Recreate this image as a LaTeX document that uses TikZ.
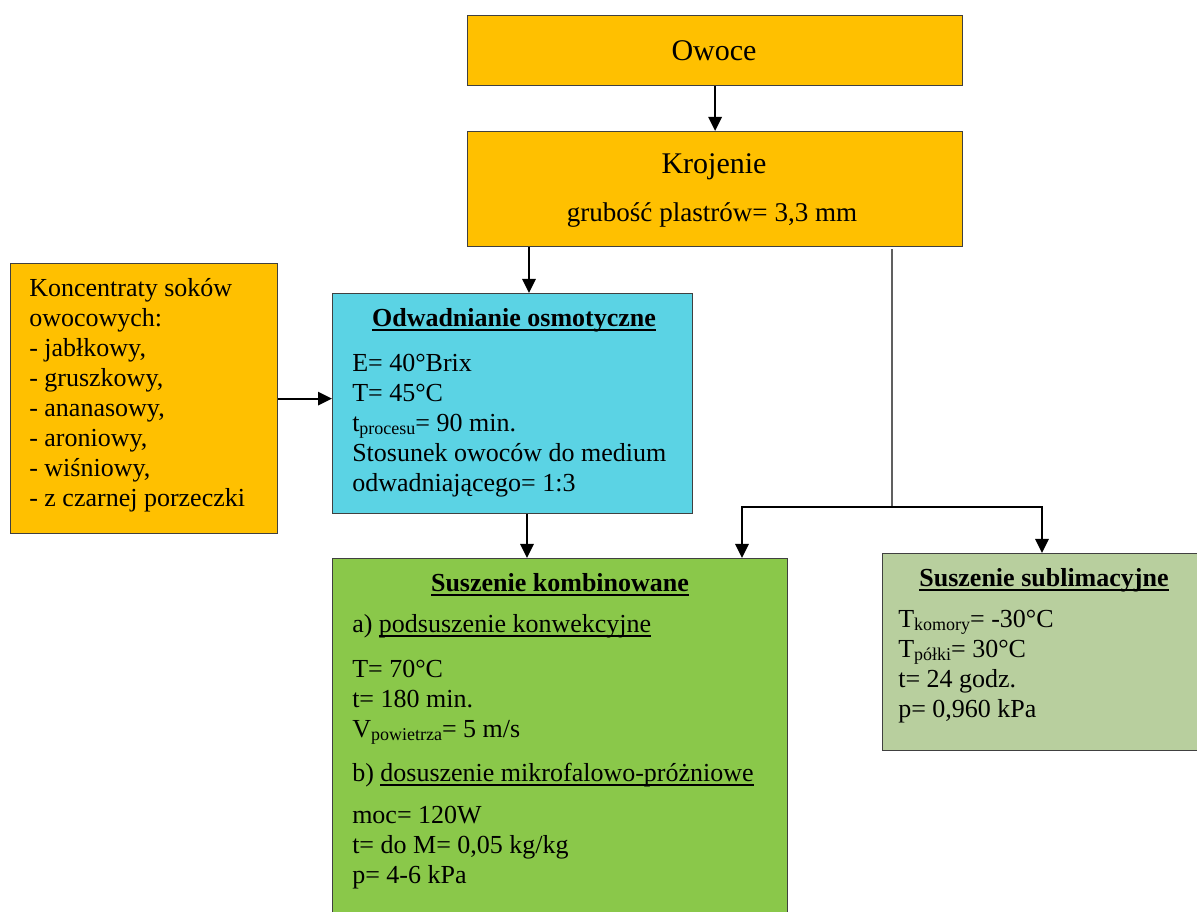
\documentclass[tikz,border=0pt]{standalone}
\usepackage{fontspec}
\setmainfont{Liberation Serif}
\usetikzlibrary{arrows.meta}
\newdimen\pxu \pxu=0.75pt
\newcommand\myul[1]{\setbox0\hbox{#1}\rlap{\rule[-3pt]{\wd0}{1.2pt}}\box0}
\newcommand\mysub[1]{\raisebox{-2.2pt}{\fontsize{13.5pt}{14pt}\selectfont #1}}
\definecolor{orangebox}{HTML}{FFC000}
\definecolor{cyanbox}{HTML}{5BD3E4}
\definecolor{greenbox}{HTML}{8AC84A}
\definecolor{subbox}{HTML}{B8CF9E}
\definecolor{boxline}{HTML}{404040}
\definecolor{splitline}{HTML}{606060}
\begin{document}
\begin{tikzpicture}[x=0.75pt,y=-0.75pt,
  box/.style={draw=boxline, line width=0.9pt, rectangle, inner sep=0pt, anchor=north west},
  arr/.style={line width=1.6pt, -{Triangle[length=10.5pt,width=10pt]}},
  grayln/.style={draw=splitline, line width=1.1pt},
  txt/.style={anchor=base west, inner sep=0pt, font=\fontsize{19.5pt}{22.5pt}\selectfont},
  ttl/.style={anchor=base, inner sep=0pt, font=\fontsize{19.5pt}{22.5pt}\selectfont\bfseries},
  big/.style={anchor=base, inner sep=0pt, font=\fontsize{22.5pt}{26pt}\selectfont},
]
\useasboundingbox (0,0) rectangle (1197,912);
\clip (0,0) rectangle (1197,912);

% boxes
\node[box, fill=orangebox, minimum width=495\pxu, minimum height=70\pxu] (owoce) at (467,15) {};
\node[box, fill=orangebox, minimum width=495\pxu, minimum height=115\pxu] (kroj) at (467,131) {};
\node[box, fill=orangebox, minimum width=267\pxu, minimum height=270\pxu] (left) at (10,263) {};
\node[box, fill=cyanbox, minimum width=360\pxu, minimum height=220\pxu] (odw) at (332,293) {};
\node[box, fill=greenbox, minimum width=455\pxu, minimum height=380\pxu] (green) at (332,558) {};
\node[box, fill=subbox, minimum width=330\pxu, minimum height=197\pxu] (sub) at (882,553) {};

% top texts
\node[big] (owoce-t) at (714,61) {Owoce};
\node[big] (kroj-t) at (714,174) {Krojenie};
\node[anchor=base, inner sep=0pt, font=\fontsize{20.3pt}{24pt}\selectfont] (kroj-s) at (712,222) {grubość plastrów= 3,3 mm};

% left box
\node[txt] (l1) at (29,297) {Koncentraty soków};
\node[txt] (l2) at (29,327) {owocowych:};
\node[txt] (l3) at (29,357) {- jabłkowy,};
\node[txt] (l4) at (29,387) {- gruszkowy,};
\node[txt] (l5) at (29,417) {- ananasowy,};
\node[txt] (l6) at (29,447) {- aroniowy,};
\node[txt] (l7) at (29,477) {- wiśniowy,};
\node[txt] (l8) at (29,507) {- z czarnej porzeczki};

% osmotic box
\node[ttl] (odw-t) at (514,327) {\myul{Odwadnianie osmotyczne}};
\node[txt] (o1) at (352,372) {E= 40°Brix};
\node[txt] (o2) at (352,402) {T= 45°C};
\node[txt] (o3) at (352,432) {t\mysub{procesu}= 90 min.};
\node[txt] (o4) at (352,462) {Stosunek owoców do medium};
\node[txt] (o5) at (352,492) {odwadniającego= 1:3};

% combined drying
\node[ttl] (g-t) at (560,592) {\myul{Suszenie kombinowane}};
\node[txt] (g1) at (352,633) {a) \myul{podsuszenie konwekcyjne}};
\node[txt] (g2) at (352,678) {T= 70°C};
\node[txt] (g3) at (352,708) {t= 180 min.};
\node[txt] (g4) at (352,738) {V\mysub{powietrza}= 5 m/s};
\node[txt] (g5) at (352,782) {b) \myul{dosuszenie mikrofalowo-próżniowe}};
\node[txt] (g6) at (352,823) {moc= 120W};
\node[txt] (g7) at (352,853) {t= do M= 0,05 kg/kg};
\node[txt] (g8) at (352,883) {p= 4-6 kPa};

% sublimation
\node[ttl] (s-t) at (1044,587) {\myul{Suszenie sublimacyjne}};
\node[txt] (s1) at (898,628) {T\mysub{komory}= -30°C};
\node[txt] (s2) at (898,658) {T\mysub{półki}= 30°C};
\node[txt] (s3) at (898,688) {t= 24 godz.};
\node[txt] (s4) at (898,718) {p= 0,960 kPa};

% connectors
\draw[arr] (owoce.south) -- (kroj.north);
\draw[arr] ([xshift=62\pxu]kroj.south west) -- ([xshift=62\pxu]kroj.south west |- odw.north);
\draw[arr] (left.east) -- (left.east -| odw.west);
\draw[arr] ([xshift=195\pxu]odw.south west) -- ([xshift=195\pxu]odw.south west |- green.north);
\coordinate (split) at (892,507);
\draw[grayln] ([yshift=-2\pxu]kroj.south -| split) -- (split);
\draw[arr] (split) -| ([xshift=410\pxu]green.north west);
\draw[arr] (split) -| ([xshift=160\pxu]sub.north west);
\end{tikzpicture}
\end{document}
